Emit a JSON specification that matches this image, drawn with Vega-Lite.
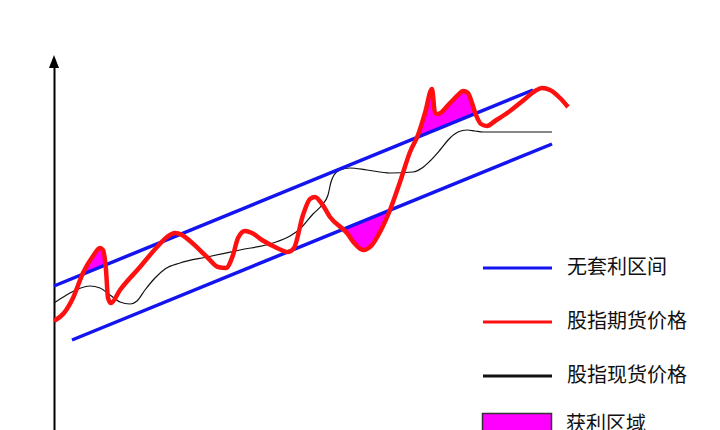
{
  "$schema": "https://vega.github.io/schema/vega-lite/v6.json",
  "width": 666,
  "height": 368,
  "autosize": {"type": "none"},
  "padding": {"left": 54, "top": 62, "right": 0, "bottom": 0},
  "background": "white",
  "config": {
    "view": {"stroke": null},
    "legend": {
      "orient": "none", "padding": 0, "labelFontSize": 20, "labelFont": "Noto Sans CJK SC",
      "labelColor": "#111111", "labelLimit": 0, "symbolSize": 4761, "symbolStrokeWidth": 3,
      "symbolOffset": 0, "labelOffset": 13.5
    }
  },
  "resolve": {"scale": {"color": "independent"}, "legend": {"color": "independent"}},
  "datasets": {
    "futures": [
      {"x":54,"price":109},{"x":64,"price":117},{"x":73,"price":132},{"x":83,"price":157},{"x":93,"price":174},{"x":100,"price":182},{"x":103,"price":180},{"x":106,"price":160},{"x":108,"price":132},{"x":111,"price":127},{"x":120,"price":140},{"x":140,"price":163},{"x":157,"price":183},{"x":167,"price":193},{"x":175,"price":197},{"x":182,"price":195},{"x":190,"price":189},{"x":207,"price":173},{"x":218,"price":163},{"x":226,"price":162},{"x":233,"price":175},{"x":238,"price":192},{"x":245,"price":199},{"x":252,"price":197},{"x":262,"price":190},{"x":275,"price":183},{"x":288,"price":178},{"x":294,"price":182},{"x":303,"price":215},{"x":310,"price":231},{"x":315,"price":233},{"x":322,"price":226},{"x":330,"price":213},{"x":347,"price":197},{"x":355,"price":186},{"x":363,"price":180},{"x":372,"price":185},{"x":380,"price":198},{"x":390,"price":220},{"x":400,"price":248},{"x":410,"price":278},{"x":418,"price":295},{"x":425,"price":317},{"x":432,"price":341},{"x":435,"price":317},{"x":438,"price":316},{"x":450,"price":327},{"x":458,"price":335},{"x":463,"price":339},{"x":468,"price":337},{"x":472,"price":327},{"x":476,"price":315},{"x":481,"price":306},{"x":487,"price":304},{"x":495,"price":309},{"x":510,"price":319},{"x":525,"price":331},{"x":535,"price":339},{"x":542,"price":342},{"x":550,"price":340},{"x":560,"price":332},{"x":568,"price":323}
    ],
    "spot": [
      {"x":54,"price":127},{"x":65,"price":134},{"x":78,"price":141},{"x":90,"price":144},{"x":100,"price":142},{"x":110,"price":135},{"x":120,"price":128},{"x":130,"price":126},{"x":137,"price":129},{"x":145,"price":140},{"x":155,"price":152},{"x":165,"price":161},{"x":180,"price":167},{"x":207,"price":173},{"x":240,"price":180},{"x":273,"price":187},{"x":290,"price":194},{"x":300,"price":201},{"x":313,"price":216},{"x":322,"price":225},{"x":328,"price":235},{"x":331,"price":248},{"x":334,"price":255},{"x":340,"price":260},{"x":350,"price":262},{"x":367,"price":260},{"x":390,"price":257},{"x":413,"price":258},{"x":422,"price":262},{"x":430,"price":269},{"x":440,"price":280},{"x":450,"price":292},{"x":458,"price":298},{"x":467,"price":300},{"x":475,"price":299},{"x":483,"price":298},{"x":552,"price":298}
    ],
    "band": [
      {"line":"upper","x":54,"price":144},{"line":"upper","x":533,"price":340},
      {"line":"lower","x":72,"price":90},{"line":"lower","x":552,"price":286}
    ],
    "fill": [
      {"region":"A","x":82.5,"futures":155.7,"band":155.7},{"region":"A","x":83,"futures":157,"band":155.9},{"region":"A","x":93,"futures":174,"band":160},{"region":"A","x":100,"futures":182,"band":162.8},{"region":"A","x":103,"futures":180,"band":164},{"region":"A","x":105.3,"futures":165,"band":165},
      {"region":"B","x":343.1,"futures":200.6,"band":200.6},{"region":"B","x":347,"futures":197,"band":202.3},{"region":"B","x":355,"futures":186,"band":205.5},{"region":"B","x":363,"futures":180,"band":208.8},{"region":"B","x":372,"futures":185,"band":212.5},{"region":"B","x":380,"futures":198,"band":215.8},{"region":"B","x":389.9,"futures":219.8,"band":219.8},
      {"region":"C","x":416.8,"futures":292.4,"band":292.4},{"region":"C","x":418,"futures":295,"band":292.9},{"region":"C","x":425,"futures":317,"band":295.8},{"region":"C","x":432,"futures":341,"band":298.7},{"region":"C","x":435,"futures":317,"band":299.9},{"region":"C","x":438,"futures":316,"band":301.1},{"region":"C","x":450,"futures":327,"band":306},{"region":"C","x":458,"futures":335,"band":309.3},{"region":"C","x":463,"futures":339,"band":311.4},{"region":"C","x":468,"futures":337,"band":313.4},{"region":"C","x":472,"futures":327,"band":315},{"region":"C","x":475.5,"futures":316.5,"band":316.5}
    ]
  },
  "layer": [
    {
      "data": {"name": "fill"},
      "transform": [{"calculate": "'获利区域'", "as": "series"}],
      "mark": {"type": "area", "interpolate": "monotone", "opacity": 1},
      "encoding": {
        "x": {"field": "x", "type": "quantitative", "scale": {"domain": [54, 720], "nice": false, "zero": false}, "axis": null},
        "y": {"field": "futures", "type": "quantitative", "scale": {"domain": [0, 368], "nice": false, "zero": false},
              "axis": {"title": null, "labels": false, "ticks": false, "grid": false, "domainColor": "#000000", "domainWidth": 2}},
        "y2": {"field": "band"},
        "detail": {"field": "region"},
        "color": {"field": "series", "type": "nominal", "scale": {"range": ["#ff00ff"]},
          "legend": {"title": null, "legendX": 427.5, "legendY": 327, "symbolType": "M-1,-0.32L1,-0.32L1,0.32L-1,0.32Z", "symbolStrokeColor": "#333333", "symbolStrokeWidth": 1.5, "symbolOpacity": 1,
            "encode": {"symbols": {"update": {"stroke": {"value": "#333333"}, "strokeWidth": {"value": 1.5}}}}}}
      }
    },
    {
      "data": {"name": "spot"},
      "transform": [{"calculate": "'股指现货价格'", "as": "series"}],
      "mark": {"type": "line", "interpolate": "monotone", "strokeWidth": 1.2},
      "encoding": {
        "x": {"field": "x", "type": "quantitative"},
        "y": {"field": "price", "type": "quantitative"},
        "color": {"field": "series", "type": "nominal", "scale": {"range": ["#111111"]},
          "legend": {"title": null, "legendX": 427.5, "legendY": 278, "symbolType": "stroke", "symbolStrokeWidth": 3}}
      }
    },
    {
      "data": {"name": "band"},
      "transform": [{"calculate": "'无套利区间'", "as": "series"}],
      "mark": {"type": "line", "strokeWidth": 3.5},
      "encoding": {
        "x": {"field": "x", "type": "quantitative"},
        "y": {"field": "price", "type": "quantitative"},
        "detail": {"field": "line"},
        "color": {"field": "series", "type": "nominal", "scale": {"range": ["#1414f0"]},
          "legend": {"title": null, "legendX": 427.5, "legendY": 170, "symbolType": "stroke", "symbolStrokeWidth": 3}}
      }
    },
    {
      "data": {"name": "futures"},
      "transform": [{"calculate": "'股指期货价格'", "as": "series"}],
      "mark": {"type": "line", "interpolate": "monotone", "strokeWidth": 4.5},
      "encoding": {
        "x": {"field": "x", "type": "quantitative"},
        "y": {"field": "price", "type": "quantitative"},
        "color": {"field": "series", "type": "nominal", "scale": {"range": ["#ff1010"]},
          "legend": {"title": null, "legendX": 427.5, "legendY": 224, "symbolType": "stroke", "symbolStrokeWidth": 3}}
      }
    },
    {
      "data": {"values": [{"x": 54, "price": 368}]},
      "mark": {"type": "point", "filled": true, "color": "#000000", "opacity": 1, "size": 169, "shape": "M0,-1.08L0.77,0.92L-0.77,0.92Z"},
      "encoding": {
        "x": {"field": "x", "type": "quantitative"},
        "y": {"field": "price", "type": "quantitative"}
      }
    }
  ]
}
